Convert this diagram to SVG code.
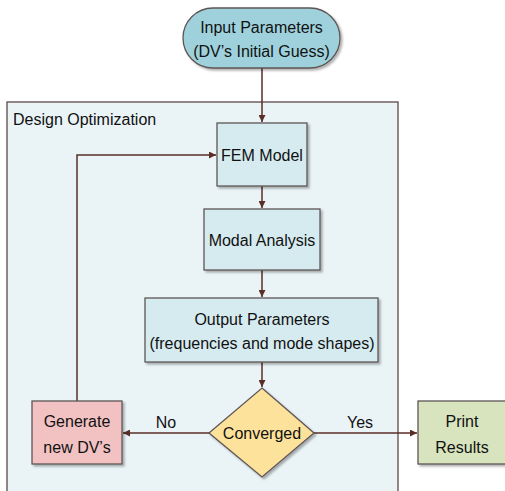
<svg xmlns="http://www.w3.org/2000/svg" width="505" height="491" viewBox="0 0 505 491">
<defs>
<marker id="ah" viewBox="0 0 10 10" refX="10" refY="5" markerWidth="7" markerHeight="7" orient="auto" markerUnits="userSpaceOnUse">
<path d="M0,0 L10,5 L0,10 Z" fill="#5a2e28"/>
</marker>
<filter id="sh" x="-10%" y="-10%" width="130%" height="130%">
<feDropShadow dx="2" dy="2" stdDeviation="1" flood-color="#000" flood-opacity="0.3"/>
</filter>
</defs>
<style>
text{font-family:"Liberation Sans",Arial,sans-serif;font-size:16px;fill:#111;text-anchor:middle}
.node{stroke:#5e5555;stroke-width:1.3;filter:url(#sh)}
.blue{fill:#d6ebf0}
.conn{stroke:#5a2e28;stroke-width:1.5;fill:none;marker-end:url(#ah)}
</style>
<g id="container">
<rect x="7" y="102" width="391" height="395" fill="#eaf4f7" stroke="#5e4848" stroke-width="1.3"/>
<text x="13" y="125" style="text-anchor:start">Design Optimization</text>
</g>
<g id="connectors">
<line class="conn" x1="262" y1="68" x2="262" y2="122"/>
<line class="conn" x1="262" y1="186" x2="262" y2="208"/>
<line class="conn" x1="262" y1="270" x2="262" y2="297"/>
<line class="conn" x1="262" y1="362" x2="262" y2="387"/>
<line class="conn" x1="209" y1="433" x2="123" y2="433"/>
<line class="conn" x1="314" y1="433" x2="417" y2="433"/>
<polyline class="conn" points="77,401 77,155 216,155"/>
<text x="166" y="428">No</text>
<text x="360" y="428">Yes</text>
</g>
<g id="input">
<rect class="node" x="183" y="8" width="157" height="60" rx="30" fill="#9fd1dd"/>
<text x="261.5" y="33">Input Parameters</text>
<text x="261.5" y="57">(DV’s Initial Guess)</text>
</g>
<g id="fem">
<rect class="node blue" x="217" y="123" width="90" height="63"/>
<text x="262" y="161">FEM Model</text>
</g>
<g id="modal">
<rect class="node blue" x="204" y="209" width="116" height="61"/>
<text x="262" y="246">Modal Analysis</text>
</g>
<g id="output">
<rect class="node blue" x="145" y="298" width="233" height="64"/>
<text x="262" y="325">Output Parameters</text>
<text x="262" y="349">(frequencies and mode shapes)</text>
</g>
<g id="converged">
<polygon class="node" points="262,388 314,433 262,477 209,433" fill="#fde29b"/>
<text x="262" y="439">Converged</text>
</g>
<g id="generate">
<rect class="node" x="32" y="401" width="90" height="63" fill="#f2c1c1"/>
<text x="77" y="427">Generate</text>
<text x="77" y="453">new DV’s</text>
</g>
<g id="print">
<rect class="node" x="418" y="401" width="90" height="63" fill="#d7e4bd"/>
<text x="462" y="427">Print</text>
<text x="462" y="453">Results</text>
</g>
</svg>
